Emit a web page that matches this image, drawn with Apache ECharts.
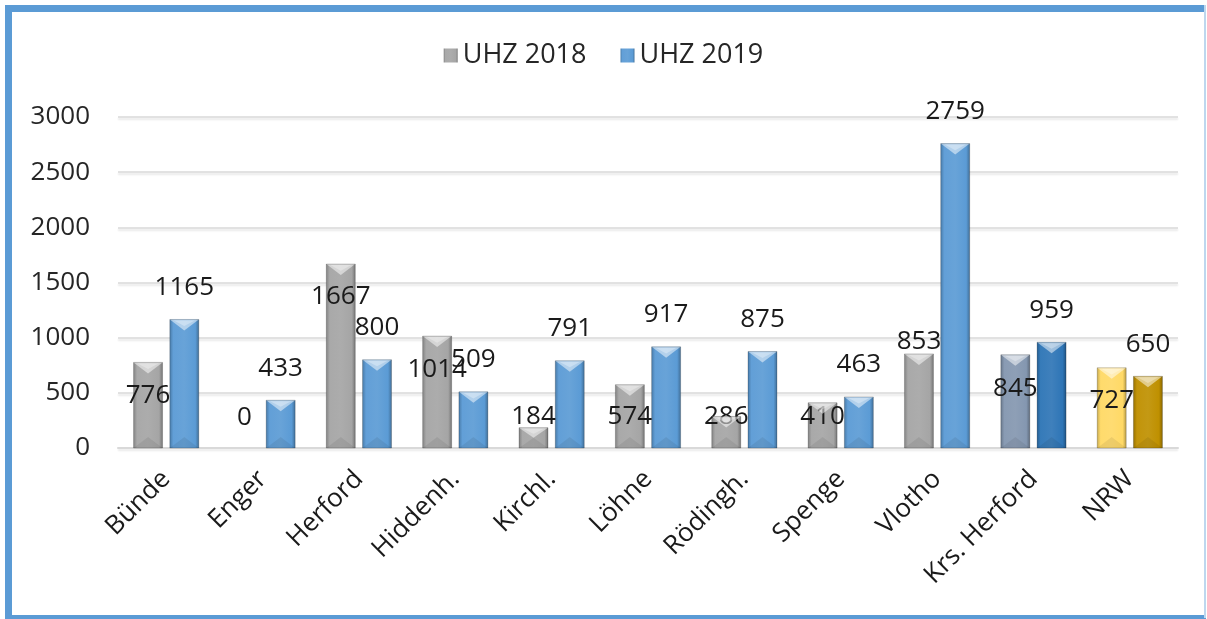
<!DOCTYPE html>
<html>
<head>
<meta charset="utf-8">
<script src="https://cdn.jsdelivr.net/npm/echarts@6/dist/echarts.min.js"></script>
<style>
  html, body { margin: 0; padding: 0; background: #fff; }
  #main { width: 1207px; height: 619px; }
</style>
</head>
<body>
<div id="main"></div>
<script>
// Daten
var categories = ['Bünde', 'Enger', 'Herford', 'Hiddenh.', 'Kirchl.', 'Löhne', 'Rödingh.', 'Spenge', 'Vlotho', 'Krs. Herford', 'NRW'];
var uhz2018 = [776, 0, 1667, 1014, 184, 574, 286, 410, 853, 845, 727];
var uhz2019 = [1165, 433, 800, 509, 791, 917, 875, 463, 2759, 959, 650];
var seriesNames = ['UHZ 2018', 'UHZ 2019'];
var yTicks = { min: 0, max: 3000, interval: 500 };

// Farben je Kategorie (Kreis und NRW abweichend)
var colors2018 = ['#a5a5a5', '#a5a5a5', '#a5a5a5', '#a5a5a5', '#a5a5a5', '#a5a5a5', '#a5a5a5', '#a5a5a5', '#a5a5a5', '#8497b0', '#ffd966'];
var colors2019 = ['#5b9bd5', '#5b9bd5', '#5b9bd5', '#5b9bd5', '#5b9bd5', '#5b9bd5', '#5b9bd5', '#5b9bd5', '#5b9bd5', '#2e75b6', '#bf9000'];
// Label-Verschiebung (px) wie im Original von Hand gesetzt
var labelShift2018 = [46, -17, 46, 46, 2, 45, 13, 27, 1, 47, 46];

var BAR_W = 29;
var BAR_GAP = 0.25;
var FONT = '"Open Sans", "Noto Sans", sans-serif';

function mix(hex, other, t) {
    var a = parseInt(hex.slice(1), 16), b = parseInt(other.slice(1), 16);
    var r = Math.round(((a >> 16) & 255) * (1 - t) + ((b >> 16) & 255) * t);
    var g = Math.round(((a >> 8) & 255) * (1 - t) + ((b >> 8) & 255) * t);
    var bl = Math.round((a & 255) * (1 - t) + (b & 255) * t);
    return 'rgb(' + r + ',' + g + ',' + bl + ')';
}

function barFill(c) {
    return new echarts.graphic.LinearGradient(0, 0, 1, 0, [
        { offset: 0, color: mix(c, '#000000', 0.2) },
        { offset: 0.12, color: mix(c, '#ffffff', 0.04) },
        { offset: 0.5, color: mix(c, '#ffffff', 0.08) },
        { offset: 0.88, color: c },
        { offset: 1, color: mix(c, '#000000', 0.28) }
    ]);
}

var chart = echarts.init(document.getElementById('main'));

// Bevel-Effekt über die Balken legen
function bevel(side) {
    return function (params, api) {
        var idx = api.value(0), val = api.value(1);
        if (!val) return null;
        var top = api.coord([idx, val]);
        var base = api.coord([idx, 0]);
        var step = (BAR_W + BAR_W * BAR_GAP) / 2;
        var xc = top[0] + side * step;
        var x0 = xc - BAR_W / 2, x1 = xc + BAR_W / 2;
        var yt = top[1], yb = base[1];
        var h = yb - yt;
        var tri = Math.min(11, h / 2);
        return {
            type: 'group',
            children: [
                { type: 'polygon', shape: { points: [[x0, yt], [x1, yt], [xc, yt + tri]] },
                  style: { fill: 'rgba(255,255,255,0.5)' } },
                { type: 'polygon', shape: { points: [[x0 + 4, yt + 1], [x1 - 4, yt + 1], [xc, yt + tri * 0.6]] },
                  style: { fill: 'rgba(255,255,255,0.3)' } },
                { type: 'polygon', shape: { points: [[x0, yb], [x1, yb], [xc, yb - tri]] },
                  style: { fill: 'rgba(0,0,0,0.07)' } },
                { type: 'rect', shape: { x: x0, y: yt, width: BAR_W, height: h },
                  style: { fill: 'none', stroke: 'rgba(0,0,0,0.2)', lineWidth: 1 } }
            ]
        };
    };
}

var labelBase = {
    show: true,
    position: 'top',
    fontFamily: FONT,
    fontSize: 26,
    lineHeight: 26,
    color: '#1a1a1a'
};

var option = {
    backgroundColor: '#ffffff',
    animation: false,
    textStyle: { fontFamily: FONT },
    graphic: [
        { type: 'rect', shape: { x: 5, y: 5, width: 1201, height: 7 }, style: { fill: '#5b9bd5' } },
        { type: 'rect', shape: { x: 5, y: 5, width: 7, height: 613 }, style: { fill: '#5b9bd5' } },
        { type: 'rect', shape: { x: 5, y: 615, width: 1201, height: 4 }, style: { fill: '#5b9bd5' } },
        { type: 'rect', shape: { x: 1204, y: 5, width: 2, height: 613 }, style: { fill: '#bdd7ee' } }
    ],
    legend: {
        data: seriesNames,
        top: 37,
        left: 'center',
        icon: 'rect',
        itemWidth: 14,
        itemHeight: 14,
        itemGap: 34,
        textStyle: { fontFamily: FONT, fontSize: 27, color: '#262626' }
    },
    grid: { left: 118, right: 29, top: 117, bottom: 171 },
    xAxis: {
        type: 'category',
        data: categories,
        axisTick: { show: false },
        axisLine: { lineStyle: { color: '#d9d9d9', width: 2 } },
        axisLabel: {
            rotate: 45,
            margin: 27,
            fontFamily: FONT,
            fontSize: 26,
            color: '#1a1a1a'
        }
    },
    yAxis: {
        type: 'value',
        min: yTicks.min,
        max: yTicks.max,
        interval: yTicks.interval,
        axisLine: { show: false },
        axisTick: { show: false },
        axisLabel: {
            margin: 28, fontFamily: FONT, fontSize: 26, color: '#262626',
            formatter: function (v) { return String(v); }
        },
        splitLine: {
            lineStyle: {
                color: '#d9d9d9', width: 1.5,
                shadowColor: 'rgba(0,0,0,0.12)', shadowBlur: 2, shadowOffsetY: 2
            }
        }
    },
    series: [
        {
            name: seriesNames[0],
            type: 'bar',
            barWidth: BAR_W,
            barGap: (BAR_GAP * 100) + '%',
            itemStyle: { color: barFill('#a5a5a5') },
            data: uhz2018.map(function (v, i) {
                return {
                    value: v,
                    itemStyle: { color: barFill(colors2018[i]) },
                    label: { distance: 0, offset: [0, labelShift2018[i]] }
                };
            }),
            label: labelBase,
            z: 2
        },
        {
            name: seriesNames[1],
            type: 'bar',
            barWidth: BAR_W,
            itemStyle: { color: barFill('#5b9bd5') },
            data: uhz2019.map(function (v, i) {
                return { value: v, itemStyle: { color: barFill(colors2019[i]) } };
            }),
            label: Object.assign({}, labelBase, { distance: 19 }),
            z: 2
        },
        {
            type: 'custom',
            silent: true,
            renderItem: bevel(-1),
            data: uhz2018.map(function (v, i) { return [i, v]; }),
            z: 3
        },
        {
            type: 'custom',
            silent: true,
            renderItem: bevel(1),
            data: uhz2019.map(function (v, i) { return [i, v]; }),
            z: 3
        }
    ]
};

chart.setOption(option);
</script>
</body>
</html>
